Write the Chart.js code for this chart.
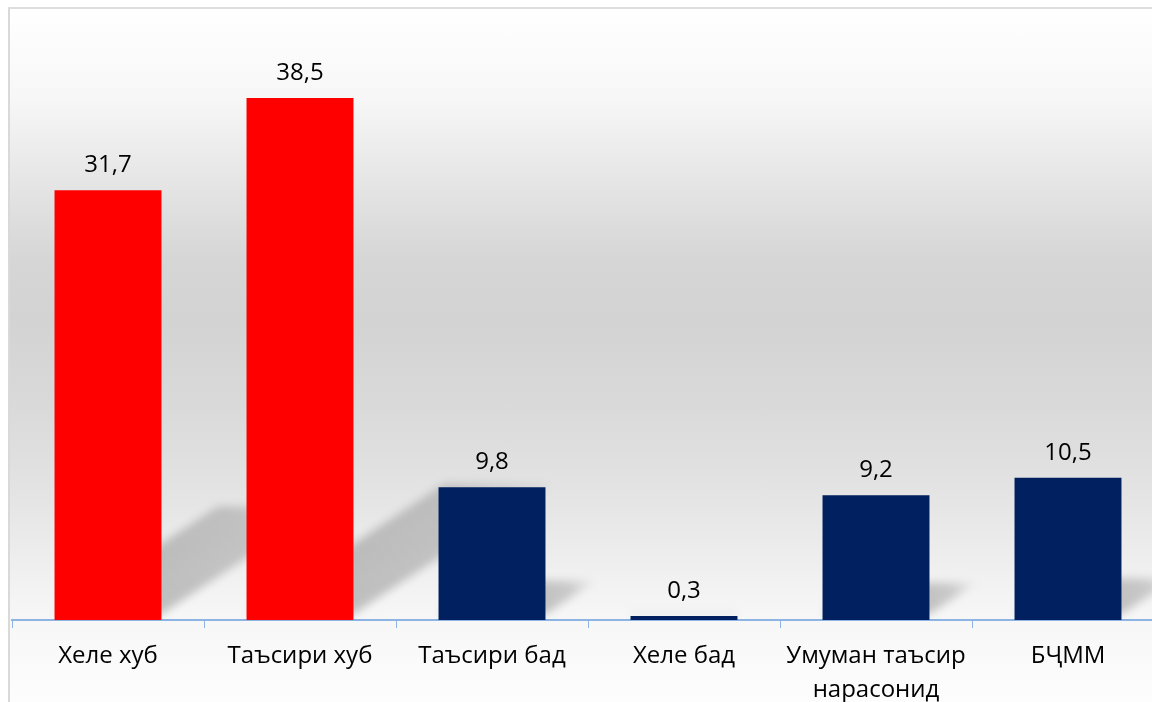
<!DOCTYPE html>
<html>
<head>
<meta charset="utf-8">
<style>
    body {
        margin: 0;
        padding: 0;
        background-color: white;
        overflow: hidden;
        font-family: 'Open Sans', sans-serif;
    }
    .frame {
        position: absolute;
        left: 8px;
        top: 7px;
        width: 1160px;
        height: 695px;
        border-left: 2px solid #d9d9d9;
        border-top: 2px solid #dedede;
        background: linear-gradient(to bottom,
            #ffffff 0px, #f7f7f7 90px, #e6e6e6 170px, #d6d6d6 250px,
            #d3d3d3 310px, #d8d8d8 380px, #dedede 440px, #e6e6e6 500px,
            #f1f1f1 570px, #f7f7f7 611px, #fafafa 650px, #fdfdfd 695px);
    }
    #chart {
        display: block;
    }
</style>
<script src="https://cdn.jsdelivr.net/npm/chart.js"></script>
</head>
<body>
<div class="frame">
    <canvas id="chart" width="1160" height="693"></canvas>
</div>
<script>
    const categories = ['Хеле хуб', 'Таъсири хуб', 'Таъсири бад', 'Хеле бад', ['Умуман таъсир', 'нарасонид'], 'БҶММ'];
    const values = [31.7, 38.5, 9.8, 0.3, 9.2, 10.5];
    const barColors = ['#ff0000', '#ff0000', '#00205f', '#00205f', '#00205f', '#00205f'];

    const FONT = "'Open Sans', sans-serif";

    // shadow cast on the back wall, up and to the right of each bar
    const shadowPlugin = {
        id: 'barShadows',
        beforeDatasetsDraw(chart) {
            const ctx = chart.ctx;
            const area = chart.chartArea;
            const bars = chart.getDatasetMeta(0).data;
            ctx.save();
            ctx.beginPath();
            ctx.rect(area.left, area.top, area.right - area.left, area.bottom - area.top);
            ctx.clip();
            ctx.filter = 'blur(4px)';
            bars.forEach(bar => {
                const h = bar.base - bar.y;
                const left = bar.x - bar.width / 2;
                const right = bar.x + bar.width / 2;
                const dx = h * 0.38;
                const dy = h * 0.25;
                const lift = 6;
                const g = ctx.createLinearGradient(right, bar.base, right + dx, bar.base - dy);
                g.addColorStop(0, 'rgba(0, 0, 0, 0.22)');
                g.addColorStop(0.6, 'rgba(0, 0, 0, 0.17)');
                g.addColorStop(1, 'rgba(0, 0, 0, 0.03)');
                ctx.fillStyle = g;
                ctx.beginPath();
                ctx.moveTo(left, bar.base - lift);
                ctx.lineTo(left + dx, bar.base - lift - dy);
                ctx.lineTo(right + dx, bar.base - lift - dy);
                ctx.lineTo(right, bar.base - lift);
                ctx.closePath();
                ctx.fill();
            });
            ctx.restore();
        }
    };

    const valueLabels = {
        id: 'valueLabels',
        afterDatasetsDraw(chart) {
            const ctx = chart.ctx;
            const bars = chart.getDatasetMeta(0).data;
            ctx.save();
            ctx.font = '24px ' + FONT;
            ctx.fillStyle = '#000';
            ctx.textAlign = 'center';
            ctx.textBaseline = 'middle';
            bars.forEach((bar, i) => {
                const txt = values[i].toFixed(1).replace('.', ',');
                ctx.fillText(txt, bar.x, bar.y - 25);
            });
            ctx.restore();
        }
    };

    new Chart(document.getElementById('chart'), {
        type: 'bar',
        data: {
            labels: categories,
            datasets: [{
                data: values,
                backgroundColor: barColors,
                borderWidth: 0,
                categoryPercentage: 1,
                barPercentage: 0.557
            }]
        },
        options: {
            responsive: false,
            animation: false,
            layout: { padding: { left: 2, right: 6, top: 1, bottom: 0 } },
            plugins: {
                legend: { display: false },
                tooltip: { enabled: false }
            },
            scales: {
                x: {
                    grid: {
                        offset: true,
                        drawOnChartArea: false,
                        drawTicks: true,
                        tickLength: 8,
                        color: '#8eb4e3',
                        lineWidth: 1
                    },
                    border: { color: '#8eb4e3', width: 2 },
                    ticks: {
                        color: '#000',
                        font: { family: FONT, size: 24, lineHeight: 1.42 },
                        padding: 11,
                        maxRotation: 0,
                        autoSkip: false
                    },
                    afterFit(scale) { scale.height = 82; }
                },
                y: {
                    display: false,
                    min: 0,
                    max: 45
                }
            }
        },
        plugins: [shadowPlugin, valueLabels]
    });
</script>
</body>
</html>
